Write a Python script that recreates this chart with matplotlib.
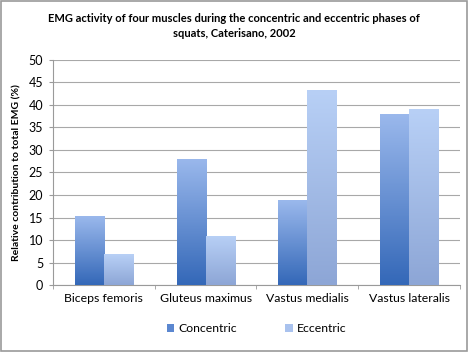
import numpy as np
import matplotlib.pyplot as plt
from matplotlib.colors import LinearSegmentedColormap

muscles = ['Biceps femoris', 'Gluteus maximus', 'Vastus medialis', 'Vastus lateralis']
concentric = [15.3, 28.0, 18.8, 37.9]
eccentric = [6.8, 11.0, 43.3, 39.0]

plt.rcParams['font.family'] = ['Lato', 'DejaVu Sans']

fig = plt.figure(figsize=(4.68, 3.52), dpi=100)
fig.patches.append(plt.Rectangle((0.002, 0.002), 0.996, 0.996, transform=fig.transFigure,
                                 fill=False, edgecolor='#9a9a9a', linewidth=1.2))
ax = fig.add_axes([0.113, 0.19, 0.870, 0.64])

x = np.arange(len(muscles))
w = 0.285
cmap_c = LinearSegmentedColormap.from_list('c', ['#3468b8', '#9ab8ec'])
cmap_e = LinearSegmentedColormap.from_list('e', ['#8da6d6', '#b8d0f6'])
grad = np.linspace(0, 1, 100).reshape(-1, 1)

bars_c = ax.bar(x - w / 2, concentric, w, color='#5b87d0', label='Concentric', zorder=2)
bars_e = ax.bar(x + w / 2, eccentric, w, color='#a9c2ee', label='Eccentric', zorder=2)
for bars, cm in [(bars_c, cmap_c), (bars_e, cmap_e)]:
    for b in bars:
        bx, by = b.get_x(), b.get_y()
        im = ax.imshow(grad, cmap=cm, origin='lower', aspect='auto',
                       extent=(bx, bx + b.get_width(), by, by + b.get_height()), zorder=3)
        im.set_clip_path(b)

ax.set_xlim(-0.5, 3.5)
ax.set_ylim(0, 50)
ax.set_yticks(range(0, 51, 5))
ax.set_xticks(x)
ax.set_xticklabels(muscles, fontsize=8.8)
ax.set_xticks(np.arange(-0.5, 4, 1), minor=True)
ax.tick_params(axis='x', which='major', length=0, pad=6)
ax.tick_params(axis='x', which='minor', length=3, color='#9a9a9a')
ax.tick_params(axis='y', labelsize=9, length=3, color='#9a9a9a', pad=4)
ax.grid(axis='y', color='#a8a8a8', linewidth=0.8, zorder=0)
for s in ['top', 'right']:
    ax.spines[s].set_visible(False)
for s in ['left', 'bottom']:
    ax.spines[s].set_color('#9a9a9a')

ax.set_ylabel('Relative contribution to total EMG (%)', fontsize=7.5, fontweight='bold', labelpad=5)
fig.suptitle('EMG activity of four muscles during the concentric and eccentric phases of\nsquats, Caterisano, 2002',
             fontsize=8, fontweight='bold', y=0.962, linespacing=1.45)

ax.legend(loc='upper center', bbox_to_anchor=(0.5, -0.12), ncol=2, frameon=False,
          fontsize=8.8, handlelength=0.6, handleheight=0.6, columnspacing=4, handletextpad=0.3)

fig.savefig('out.png', dpi=100)
